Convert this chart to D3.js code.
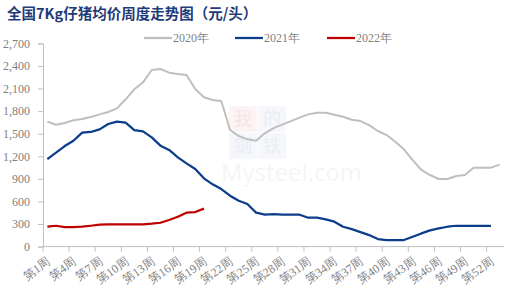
<!DOCTYPE html>
<html>
<head>
<meta charset="utf-8">
<script src="https://cdn.jsdelivr.net/npm/d3@7/dist/d3.min.js"></script>
<style>
  body { margin: 0; background: #fff; }
  svg { display: block; }
</style>
</head>
<body>
<div id="chart"></div>
<script>
// weekly categories
const weeks = d3.range(1, 54).map(function (d) { return '第' + d + '周'; });
const yTicks = [0, 300, 600, 900, 1200, 1500, 1800, 2100, 2400, 2700];

const seriesNames = ['2020年', '2021年', '2022年'];
const values2020 = [1660, 1620, 1642, 1678, 1695, 1722, 1757, 1788, 1837, 1957,
  2090, 2183, 2347, 2360, 2311, 2293, 2280, 2094, 1984, 1948,
  1935, 1549, 1470, 1425, 1407, 1505, 1575, 1620, 1668, 1713,
  1757, 1779, 1779, 1752, 1726, 1686, 1668, 1615, 1536, 1482,
  1394, 1292, 1150, 1018, 951, 898, 898, 938, 951, 1049,
  1049, 1049, 1089];
const values2021 = [1163, 1248, 1336, 1407, 1514, 1523, 1558, 1629, 1660, 1647,
  1549, 1531, 1452, 1341, 1284, 1186, 1106, 1031, 907, 827,
  765, 676, 610, 566, 451, 424, 433, 424, 424, 424,
  384, 384, 362, 331, 264, 233, 193, 153, 100, 87,
  87, 87, 131, 175, 215, 242, 264, 277, 277, 277,
  277, 277];
const values2022 = [264, 277, 260, 260, 264, 277, 291, 295, 295, 295,
  295, 295, 304, 317, 353, 397, 451, 459, 504];
const seriesColors = ['#bfbfbf', '#0b3d8c', '#c00000'];

const width = 522, height = 295;
const margin = { top: 43.4, right: 18, bottom: 48.4, left: 43 };
const innerW = width - margin.left - margin.right;
const innerH = height - margin.top - margin.bottom;

const svg = d3.select('#chart').append('svg')
  .attr('width', width)
  .attr('height', height);

// title
svg.append('text')
  .attr('x', 7)
  .attr('y', 19)
  .attr('font-family', '"Noto Sans CJK SC", sans-serif')
  .attr('font-weight', 'bold')
  .attr('font-size', 14.5)
  .attr('fill', '#1f3b7a')
  .text('全国7Kg仔猪均价周度走势图（元/头）');

// faint watermark
const wm = svg.append('g').attr('transform', 'translate(229,106)').attr('opacity', 0.3);
[['我', 0, 0, '#f6d8dc', '#e9a7ae'], ['的', 29, 0, '#e0e6f2', '#b9c4dd'],
 ['钢', 0, 27, '#e0e6f2', '#b9c4dd'], ['铁', 29, 27, '#e0e6f2', '#b9c4dd']].forEach(function (c) {
  wm.append('rect').attr('x', c[1]).attr('y', c[2]).attr('width', 28).attr('height', 26).attr('fill', c[3]);
  wm.append('text').attr('x', c[1] + 14).attr('y', c[2] + 19).attr('text-anchor', 'middle')
    .attr('font-family', '"Noto Sans CJK SC", serif').attr('font-size', 18).attr('fill', c[4]).text(c[0]);
});
svg.append('text')
  .attr('x', 221).attr('y', 181)
  .attr('font-family', '"Open Sans", sans-serif')
  .attr('font-size', 24)
  .attr('fill', '#f5f5f5')
  .text('Mysteel.com');

const g = svg.append('g')
  .attr('transform', 'translate(' + margin.left + ',' + margin.top + ')');

const x = d3.scaleBand().domain(weeks).range([0, innerW]);
const y = d3.scaleLinear().domain([0, 2700]).range([innerH, 0]);

// y axis
const yAxis = g.append('g')
  .call(d3.axisLeft(y).tickValues(yTicks).tickFormat(d3.format(',')).tickSize(5).tickPadding(8));
yAxis.select('.domain').attr('stroke', '#bfbfbf');
yAxis.selectAll('.tick line').attr('stroke', '#bfbfbf');
yAxis.selectAll('.tick text')
  .attr('fill', '#7f7f7f')
  .attr('font-family', '"Liberation Serif", serif')
  .attr('font-size', 12);

// x axis: ticks at every third category boundary
const xLabels = weeks.filter(function (d, i) { return i % 3 === 0; });
const xAxis = g.append('g').attr('transform', 'translate(0,' + innerH + ')');
xAxis.append('line').attr('x1', 0).attr('x2', innerW).attr('stroke', '#bfbfbf');
xAxis.selectAll('line.tk').data(xLabels).enter().append('line')
  .attr('class', 'tk')
  .attr('x1', function (d) { return x(d); })
  .attr('x2', function (d) { return x(d); })
  .attr('y1', 0).attr('y2', 5)
  .attr('stroke', '#bfbfbf');
xAxis.selectAll('text').data(xLabels).enter().append('text')
  .attr('transform', function (d) { return 'translate(' + (x(d) + x.bandwidth() / 2 - 1) + ',10) rotate(-35)'; })
  .attr('text-anchor', 'end')
  .attr('dy', '0.7em')
  .attr('fill', '#7f7f7f')
  .attr('font-family', '"Liberation Serif", serif')
  .attr('font-size', 12)
  .text(function (d) { return d; });

// lines
const line = d3.line()
  .x(function (d, i) { return x(weeks[i]) + x.bandwidth() / 2; })
  .y(function (d) { return y(d); });

[values2020, values2021, values2022].forEach(function (vals, k) {
  g.append('path')
    .datum(vals)
    .attr('fill', 'none')
    .attr('stroke', seriesColors[k])
    .attr('stroke-width', k === 0 ? 2 : 2.25)
    .attr('stroke-linejoin', 'round')
    .attr('d', line);
});

// legend
const legendX = [144, 235, 327];
const legend = svg.append('g');
seriesNames.forEach(function (name, k) {
  legend.append('line')
    .attr('x1', legendX[k]).attr('x2', legendX[k] + 28)
    .attr('y1', 38).attr('y2', 38)
    .attr('stroke', seriesColors[k])
    .attr('stroke-width', 2.25);
  legend.append('text')
    .attr('x', legendX[k] + 29).attr('y', 42)
    .attr('fill', '#7f7f7f')
    .attr('font-family', '"Liberation Serif", serif')
    .attr('font-size', 12)
    .text(name);
});
</script>
</body>
</html>
